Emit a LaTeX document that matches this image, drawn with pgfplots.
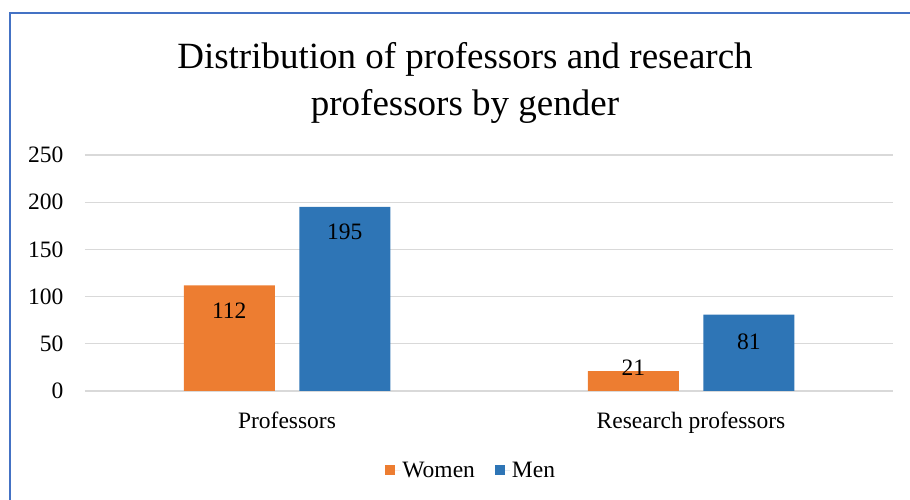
\documentclass[border=0pt]{standalone}
\usepackage{pgfplots}
\pgfplotsset{compat=1.18}
\usepackage{fontspec}
\setmainfont{Liberation Serif}
\definecolor{women}{HTML}{ED7D31}
\definecolor{men}{HTML}{2E75B6}
\definecolor{framec}{HTML}{4472C4}
\definecolor{gridc}{HTML}{D9D9D9}
\begin{document}
\begin{tikzpicture}[x=1pt,y=1pt]
\path[use as bounding box] (0,0) rectangle (910,500);
\draw[framec, line width=2.5pt] (10,-5) -- (10,487) -- (915,487);
\node[align=center, font=\fontsize{37}{47}\selectfont] at (465,417) {Distribution of professors and research\\professors by gender};
\begin{axis}[
  at={(85pt,109pt)}, anchor=south west, scale only axis,
  width=808pt, height=236pt,
  xmin=-0.5, xmax=1.5, ymin=0, ymax=250,
  ytick={0,50,100,150,200,250},
  xtick={0,1}, xticklabels={Professors,Research professors},
  ymajorgrids, grid style={gridc, line width=1.2pt},
  axis line style={draw=none}, major tick length=0pt,
  /pgf/number format/assume math mode=true,
  tick label style={font=\fontsize{23.5}{27}\selectfont},
  yticklabel style={xshift=-18pt},
  xticklabel style={yshift=-17pt},
  ybar, bar width=91pt,
  legend style={at={(0.478,-0.335)}, anchor=center, draw=none, legend columns=2,
    font=\fontsize{23.5}{27}\selectfont,
    /tikz/every even column/.append style={column sep=18pt}},
  legend image code/.code={\fill[#1] (0pt,-5pt) rectangle (10pt,5pt); \path (0pt,0pt) -- (15pt,0pt);},
  nodes near coords,
  visualization depends on={value \thisrow{off}\as\off},
  every node near coord/.append style={font=\fontsize{23.5}{27}\selectfont, anchor=center, yshift=\off pt},
]
\addplot[fill=women, draw=none, bar shift=-57.75pt] table {
x y off
0 112 -25
1 21 3
};
\addlegendentry{Women}
\addplot[fill=men, draw=none, bar shift=57.75pt] table {
x y off
0 195 -25
1 81 -27
};
\addlegendentry{Men}
\end{axis}
\end{tikzpicture}
\end{document}
